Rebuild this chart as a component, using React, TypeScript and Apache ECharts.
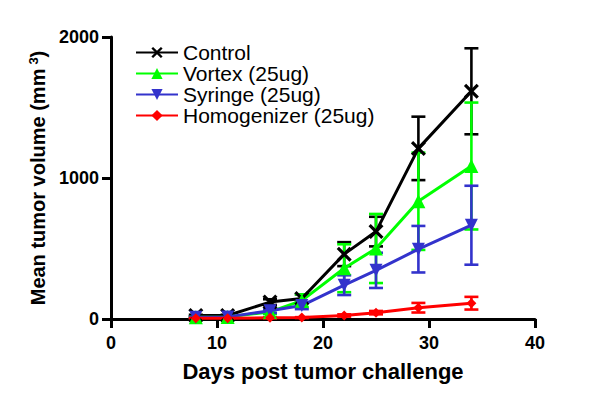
import React, { useEffect, useRef } from "react";
import * as echarts from "echarts";

const days = [8, 11, 15, 18, 22, 25, 29, 34];
const controlMean = [25, 25, 120, 145, 460, 620, 1210, 1615];
const controlErr = [5, 5, 20, 30, 85, 105, 225, 305];
const vortexMean = [12, 15, 50, 130, 360, 500, 835, 1085];
const vortexErr = [3, 5, 15, 45, 170, 245, 345, 450];
const syringeMean = [12, 15, 58, 95, 240, 345, 495, 665];
const syringeErr = [3, 5, 15, 25, 70, 125, 165, 280];
const homogMean = [5, 5, 8, 10, 25, 45, 80, 112];
const homogErr = [2, 2, 3, 3, 8, 12, 34, 45];

const seriesNames = ["Control", "Vortex (25ug)", "Syringe (25ug)", "Homogenizer (25ug)"];
const seriesColors = ["#000000", "#00ff00", "#3333cc", "#ff0000"];
const xTicks = [0, 10, 20, 30, 40];
const yTicks = [0, 1000, 2000];

const FONT = 'Arial, "Liberation Sans", sans-serif';
const X_SYMBOL =
  "path://M0,1.8L1.8,0L6,4.2L10.2,0L12,1.8L7.8,6L12,10.2L10.2,12L6,7.8L1.8,12L0,10.2L4.2,6Z";
const DOWN_TRI = "path://M0,0L10,0L5,9Z";

export default function App() {
  const ref = useRef<HTMLDivElement>(null);
  useEffect(() => {
    if (!ref.current) return;
    const chart = echarts.init(ref.current, null, { renderer: "svg" });
    const means = [controlMean, vortexMean, syringeMean, homogMean];
    const errs = [controlErr, vortexErr, syringeErr, homogErr];
    const symbols = [X_SYMBOL, "triangle", DOWN_TRI, "diamond"];
    const sizes = [15, 14, 13, 10];
    const series: any[] = [];
    means.forEach((m, i) => {
      const color = seriesColors[i];
      series.push({
        name: seriesNames[i] + " err",
        type: "custom",
        data: days.map((d, k) => [d, m[k], errs[i][k]]),
        encode: { x: 0, y: 1 },
        renderItem: (params: any, api: any) => {
          const x = api.value(0);
          const y = api.value(1);
          const e = api.value(2);
          const top = api.coord([x, y + e]);
          const bot = api.coord([x, y - e]);
          const half = 7;
          const style = { stroke: color, lineWidth: 2.6 };
          return {
            type: "group",
            children: [
              { type: "line", shape: { x1: top[0], y1: top[1], x2: bot[0], y2: bot[1] }, style },
              { type: "line", shape: { x1: top[0] - half, y1: top[1], x2: top[0] + half, y2: top[1] }, style },
              { type: "line", shape: { x1: bot[0] - half, y1: bot[1], x2: bot[0] + half, y2: bot[1] }, style },
            ],
          };
        },
        silent: true,
      });
      series.push({
        name: seriesNames[i],
        type: "line",
        data: days.map((d, k) => [d, m[k]]),
        symbol: symbols[i],
        symbolSize: sizes[i],
        showAllSymbol: true,
        lineStyle: { color, width: 3 },
        itemStyle: { color, borderWidth: 0 },
      });
    });

    chart.setOption({
      animation: false,
      textStyle: { fontFamily: FONT },
      grid: { left: 111, right: 65, top: 37, bottom: 91, containLabel: false },
      legend: {
        data: seriesNames,
        orient: "vertical",
        left: 135,
        top: 42,
        padding: 0,
        itemWidth: 42,
        itemHeight: 14,
        itemGap: 0,
        textStyle: { fontSize: 21, fontFamily: FONT, color: "#000", lineHeight: 21 },
      },
      xAxis: {
        type: "value",
        min: 0,
        max: 40,
        interval: 10,
        name: "Days post tumor challenge",
        nameLocation: "middle",
        nameGap: 41,
        nameTextStyle: { fontSize: 22, fontWeight: "bold", color: "#000", fontFamily: FONT },
        axisLine: { show: true, onZero: false, lineStyle: { color: "#000", width: 3 } },
        axisTick: { show: true, length: 9, lineStyle: { color: "#000", width: 3 } },
        axisLabel: {
          fontSize: 18,
          fontWeight: "bold",
          color: "#000",
          margin: 15,
          fontFamily: FONT,
          formatter: (v: number) => (xTicks.includes(v) ? String(v) : ""),
        },
        splitLine: { show: false },
      },
      yAxis: {
        type: "value",
        min: 0,
        max: 2000,
        interval: 1000,
        name: "Mean tumor volume (mm{sup|3})",
        nameLocation: "middle",
        nameGap: 56,
        nameRotate: 90,
        nameTextStyle: {
          fontSize: 20,
          fontWeight: "bold",
          color: "#000",
          fontFamily: FONT,
          rich: {
            sup: { fontSize: 13, fontWeight: "bold", color: "#000", fontFamily: FONT, verticalAlign: "top", padding: [0, 0, 10, 4] },
          },
        },
        axisLine: { show: true, lineStyle: { color: "#000", width: 3 } },
        axisTick: { show: true, length: 9, lineStyle: { color: "#000", width: 3 } },
        axisLabel: {
          fontSize: 18,
          fontWeight: "bold",
          color: "#000",
          margin: 12,
          fontFamily: FONT,
          formatter: (v: number) => (yTicks.includes(v) ? String(v) : ""),
        },
        splitLine: { show: false },
      },
      series,
    });
    return () => chart.dispose();
  }, []);
  return (
    <div
      ref={ref}
      style={{ position: "fixed", left: 0, top: 0, width: 600, height: 410, background: "#fff" }}
    />
  );
}
